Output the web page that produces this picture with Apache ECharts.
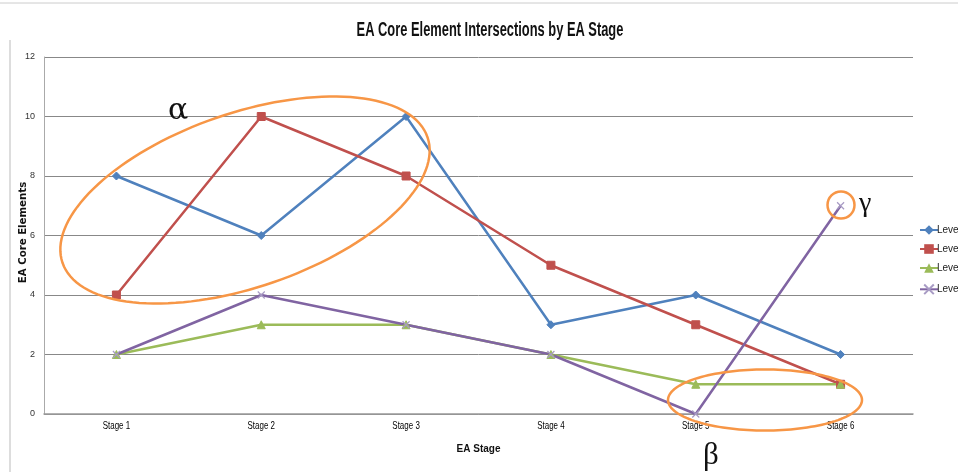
<!DOCTYPE html>
<html><head><meta charset="utf-8">
<script src="https://cdn.jsdelivr.net/npm/echarts@6/dist/echarts.min.js"></script>
<style>html,body{margin:0;padding:0;background:#fff;}#c{width:958px;height:472px;}</style>
</head><body><div id="c"></div>
<script>
const categories = ['Stage 1','Stage 2','Stage 3','Stage 4','Stage 5','Stage 6'];
const level2 = [8, 6, 10, 3, 4, 2];
const level3 = [4, 10, 8, 5, 3, 1];
const level4 = [2, 3, 3, 2, 1, 1];
const level5 = [2, 4, 3, 2, 0, 7];
const seriesNames = ['Level 2','Level 3','Level 4','Level 5'];
const titleText = 'EA Core Element Intersections by EA Stage';

const FONT = '"Liberation Sans", Arial, sans-serif';
const crossPath = 'path://M0,0 L10,10 M10,0 L0,10';

function ellipsePts(cx, cy, a, b, deg) {
  const p = deg * Math.PI / 180, pts = [];
  for (let i = 0; i < 140; i++) {
    const t = i / 140 * Math.PI * 2;
    const x = a * Math.cos(t), y = b * Math.sin(t);
    pts.push([cx + x * Math.cos(p) - y * Math.sin(p), cy - (x * Math.sin(p) + y * Math.cos(p))]);
  }
  return pts;
}
const orange = '#F79646';

const chart = echarts.init(document.getElementById('c'), null, {renderer: 'canvas'});
function mk(name, data, color, symbol, size) {
  return {
    name, type: 'line', data, symbol, symbolSize: size,
    lineStyle: {color, width: 2.5}, itemStyle: {color, borderColor: color},
    emphasis: {disabled: true}, animation: false
  };
}
const decor = [
  {type: 'line', silent: true, shape: {x1: 0, y1: 3, x2: 958, y2: 3}, style: {stroke: '#ccc', lineWidth: 1}},
  {type: 'line', silent: true, shape: {x1: 10, y1: 40, x2: 10, y2: 472}, style: {stroke: '#bbb', lineWidth: 1}},
  {type: 'text', silent: true, x: 490, y: 31, scaleX: 0.66, originX: 0, style: {text: titleText, font: 'bold 19.5px "Liberation Sans", Arial, sans-serif', fill: '#111', align: 'center', verticalAlign: 'middle'}},
  {type: 'polygon', silent: true, z: 10, shape: {points: ellipsePts(245, 200, 193, 87, 19)}, style: {fill: 'none', stroke: orange, lineWidth: 2.5}},
  {type: 'polygon', silent: true, z: 10, shape: {points: ellipsePts(765, 400, 97, 30.5, 0)}, style: {fill: 'none', stroke: orange, lineWidth: 2.5}},
  {type: 'circle', silent: true, z: 10, shape: {cx: 841, cy: 205, r: 13.5}, style: {fill: 'none', stroke: orange, lineWidth: 2.5}},
  {type: 'text', silent: true, left: 168, top: 96, style: {text: 'α', font: '30px "DejaVu Serif", serif', fill: '#111'}},
  {type: 'text', silent: true, left: 703, top: 440, style: {text: 'β', font: '31px "Liberation Serif", serif', fill: '#111'}},
  {type: 'text', silent: true, left: 859, top: 190, style: {text: 'γ', font: '28px "Liberation Serif", serif', fill: '#111'}}
];
chart.setOption({
  animation: false,
  grid: {left: 44, right: 45, top: 57, bottom: 58, containLabel: false, outerBoundsMode: 'none'},
  legend: {
    orient: 'vertical', left: 914, top: 220, itemGap: 9, itemWidth: 18, itemHeight: 12,
    textStyle: {fontFamily: FONT, fontSize: 10, color: '#222', padding: [0,0,0,-6]},
    data: seriesNames
  },
  xAxis: {
    type: 'category', data: categories, boundaryGap: true,
    name: 'EA Stage', nameLocation: 'middle', nameGap: 30,
    nameTextStyle: {fontFamily: FONT, fontSize: 10, fontWeight: 'bold', color: '#111'},
    axisLine: {lineStyle: {color: '#999', width: 1.5}},
    axisTick: {show: false},
    axisLabel: {show: false}
  },
  yAxis: {
    type: 'value', min: 0, max: 12, interval: 2,
    name: 'EA Core Elements', nameLocation: 'middle', nameGap: 16, nameRotate: 90, nameMoveOverlap: false,
    nameTextStyle: {fontFamily: '"DejaVu Sans", sans-serif', fontSize: 10.2, fontWeight: 'bold', color: '#111', padding: [0, 0, 0, 6]},
    axisLine: {show: true, lineStyle: {color: '#aaa'}},
    axisTick: {show: false},
    splitLine: {lineStyle: {color: '#888', width: 1}},
    axisLabel: {fontFamily: FONT, fontSize: 9, color: '#333', margin: 9}
  },
  series: [
    mk('Level 2', level2, '#4F81BD', 'diamond', 8),
    mk('Level 3', level3, '#C0504D', 'rect', 8),
    mk('Level 4', level4, '#9BBB59', 'triangle', 8),
    Object.assign(mk('Level 5', level5, '#8064A2', crossPath, 7), {itemStyle: {color: 'none', borderColor: '#A89BC4', borderWidth: 1.2}})
  ],
  graphic: decor
});
// category tick labels, positioned from the library's own category scale
const y0 = chart.convertToPixel({yAxisIndex: 0}, 0);
const labelEls = categories.map(c => ({
  type: 'text', silent: true,
  x: chart.convertToPixel({xAxisIndex: 0}, c), y: y0 + 12, scaleX: 0.76,
  style: {text: c, font: '10.5px "Liberation Sans", Arial, sans-serif', fill: '#000', align: 'center', verticalAlign: 'middle'}
}));
chart.setOption({graphic: decor.concat(labelEls)}, {replaceMerge: ['graphic']});
</script></body></html>
